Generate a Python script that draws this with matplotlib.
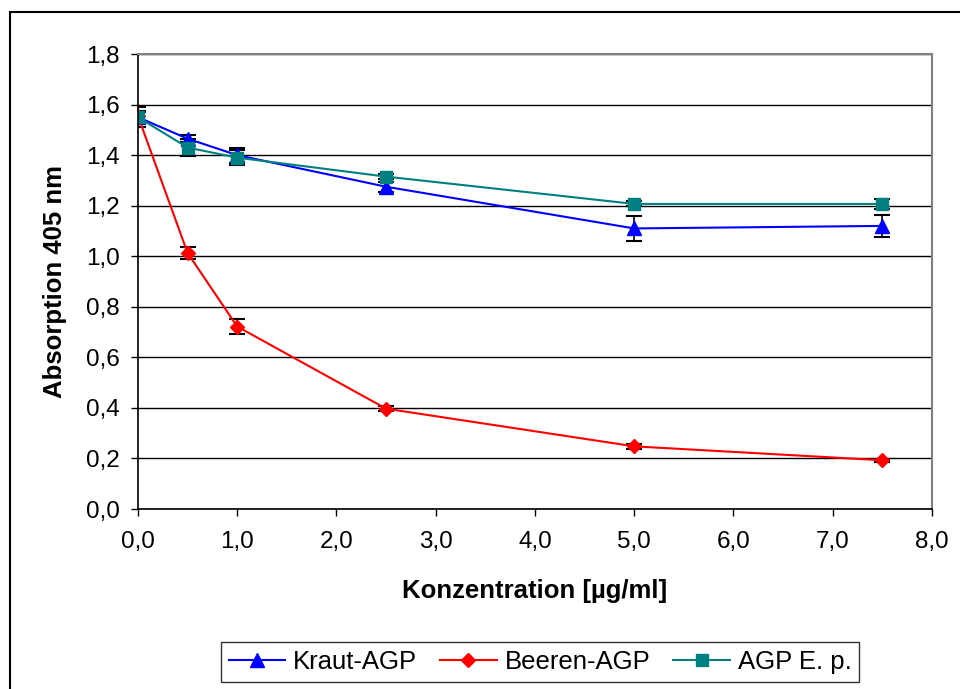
import matplotlib
matplotlib.use("Agg")
import matplotlib.pyplot as plt
from matplotlib.patches import Rectangle
from matplotlib.lines import Line2D
from matplotlib.ticker import FuncFormatter, MultipleLocator

plt.rcParams['font.family'] = ['Liberation Sans', 'DejaVu Sans']

conc = [0.0, 0.5, 1.0, 2.5, 5.0, 7.5]
kraut = [1.55, 1.465, 1.40, 1.275, 1.11, 1.12]
kraut_err = [0.04, 0.015, 0.03, 0.02, 0.05, 0.045]
beeren = [1.555, 1.013, 0.722, 0.397, 0.248, 0.193]
beeren_err = [0.02, 0.025, 0.03, 0.01, 0.01, 0.005]
agp = [1.55, 1.43, 1.39, 1.315, 1.207, 1.207]
agp_err = [0.02, 0.035, 0.03, 0.01, 0.01, 0.02]
labels = ['Kraut-AGP', 'Beeren-AGP', 'AGP E. p.']
colors = ['#0000FF', '#FF0000', '#008080']
markers = ['^', 'D', 's']
msizes = [10, 7, 8.5]

fig = plt.figure(figsize=(9.6, 6.89), dpi=100)
ax = fig.add_axes([0.1437, 0.2612, 0.8271, 0.6604])

fig.patches.append(Rectangle((10/960, -0.05), 1.0, 1 - 12/689 + 0.05,
                             transform=fig.transFigure, fill=False,
                             edgecolor='black', lw=1.5, zorder=0))

ax.set_xlim(0, 8)
ax.set_ylim(0, 1.8)
ax.yaxis.set_major_locator(MultipleLocator(0.2))
ax.xaxis.set_major_locator(MultipleLocator(1.0))
fmt = FuncFormatter(lambda v, p: f"{v:.1f}".replace('.', ','))
ax.xaxis.set_major_formatter(fmt)
ax.yaxis.set_major_formatter(fmt)
ax.grid(axis='y', color='black', lw=1.0)
ax.set_axisbelow(True)
for s in ['left', 'bottom']:
    ax.spines[s].set_color('black')
    ax.spines[s].set_linewidth(1.2)
for s in ['top', 'right']:
    ax.spines[s].set_color('#808080')
    ax.spines[s].set_linewidth(1.5)
ax.tick_params(axis='both', labelsize=17.5, direction='out', length=5, width=1)
ax.tick_params(axis='x', pad=11)
ax.tick_params(axis='y', pad=8)

ekw = dict(ecolor='black', elinewidth=1.2, capsize=5.5, capthick=1.5)
series = [kraut, beeren, agp]
errs = [kraut_err, beeren_err, agp_err]
handles = []
for vals, err, c, m, ms, lab in zip(series, errs, colors, markers, msizes, labels):
    ax.errorbar(conc, vals, yerr=err, color=c, marker=m, markersize=ms,
                lw=1.5, label=lab, **ekw)
    handles.append(Line2D([], [], color=c, marker=m, markersize=ms, lw=1.5))

ax.set_xlabel('Konzentration [µg/ml]', fontsize=18.5, fontweight='bold', va='center')
ax.set_ylabel('Absorption 405 nm', fontsize=18.5, fontweight='bold', va='center')
ax.xaxis.set_label_coords(0.5, (509 - 591) / 455)
ax.yaxis.set_label_coords((55 - 138) / 794, 0.5)

leg = fig.legend(handles, labels, loc='center', bbox_to_anchor=(540 / 960, 1 - 662 / 689),
                 ncol=3, fontsize=18.5, frameon=True, fancybox=False,
                 edgecolor='black', handlelength=2.2, handletextpad=0.3,
                 columnspacing=0.9, borderpad=0.3, borderaxespad=0)
leg.get_frame().set_linewidth(1.0)

fig.savefig('out.png', dpi=100)
